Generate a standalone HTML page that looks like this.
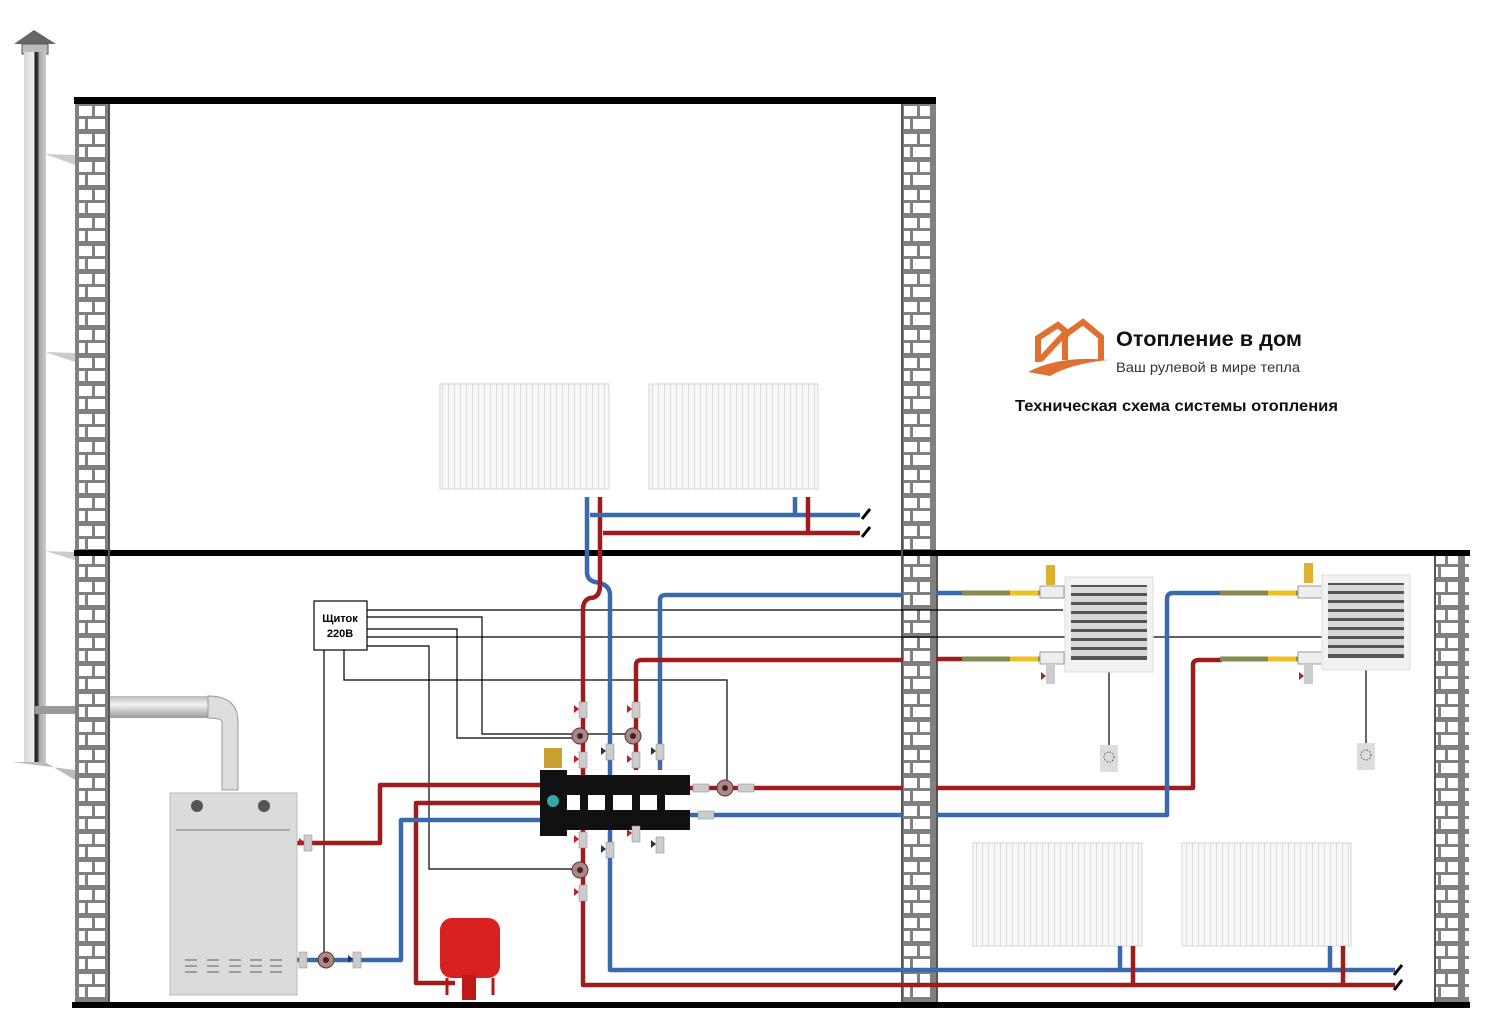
<!DOCTYPE html>
<html><head><meta charset="utf-8"><style>
html,body{margin:0;padding:0;background:#fff;}
svg{display:block;}
text{font-family:"Liberation Sans","DejaVu Sans",sans-serif;}
</style></head><body>
<svg width="1494" height="1030" viewBox="0 0 1494 1030" xmlns="http://www.w3.org/2000/svg">
<defs>
<pattern id="brick" x="75" y="103" width="33" height="28" patternUnits="userSpaceOnUse">
<rect width="33" height="28" fill="#808080"/>
<rect x="4" y="3" width="13" height="10" fill="#fff"/>
<rect x="20" y="3" width="10" height="10" fill="#fff"/>
<rect x="4" y="16" width="6" height="10" fill="#fff"/>
<rect x="13" y="16" width="17" height="10" fill="#fff"/>
</pattern>
<pattern id="rad" x="0" y="0" width="6" height="10" patternUnits="userSpaceOnUse">
<rect width="6" height="10" fill="#f8f8f8"/><rect x="4" width="1" height="10" fill="#dcdcdc"/>
</pattern>
<linearGradient id="chim" x1="0" x2="1"><stop offset="0" stop-color="#d8d8d8"/><stop offset=".45" stop-color="#eee"/><stop offset=".5" stop-color="#222"/><stop offset=".62" stop-color="#333"/><stop offset=".7" stop-color="#aaa"/><stop offset="1" stop-color="#ccc"/></linearGradient>
<linearGradient id="flue" x1="0" y1="0" x2="0" y2="1"><stop offset="0" stop-color="#bbb"/><stop offset=".4" stop-color="#f2f2f2"/><stop offset="1" stop-color="#999"/></linearGradient>
<g id="heater">
<rect x="0" y="0" width="88" height="95" fill="#f2f2f2" stroke="#ddd"/>
<rect x="6" y="8" width="76" height="75" fill="#555"/>
<g fill="#d8d8d8"><rect x="6" y="10" width="76" height="6"/><rect x="6" y="19" width="76" height="6"/><rect x="6" y="28" width="76" height="6"/><rect x="6" y="37" width="76" height="6"/><rect x="6" y="46" width="76" height="6"/><rect x="6" y="55" width="76" height="6"/><rect x="6" y="64" width="76" height="6"/><rect x="6" y="73" width="76" height="6"/></g>
</g>
<g id="valveR"><rect x="-4" y="-8" width="8" height="16" fill="#ccc" stroke="#888" stroke-width=".5"/><path d="M-9,-5 L-4,-1 L-9,3 Z" fill="#b22"/></g>
<g id="valveB"><rect x="-4" y="-8" width="8" height="16" fill="#ccc" stroke="#888" stroke-width=".5"/><path d="M-9,-5 L-4,-1 L-9,3 Z" fill="#235"/></g>
<g id="pump"><circle r="8" fill="#a88" stroke="#633"/><circle r="3" fill="#422"/></g>
<g id="therm"><rect x="0" y="0" width="18" height="27" fill="#ddd"/><circle cx="9" cy="12" r="5" fill="none" stroke="#555" stroke-dasharray="1.5 1.5"/></g>
</defs>

<!-- chimney -->
<path d="M14,44 L34,30 L56,44 Z" fill="#666"/>
<rect x="22" y="44" width="26" height="10" fill="#bbb" stroke="#555"/>
<rect x="24" y="52" width="22" height="710" fill="url(#chim)"/>
<path d="M45,154 L75,155 L75,165 Z" fill="#ccc"/>
<path d="M45,352 L75,353 L75,362 Z" fill="#ccc"/>
<path d="M45,551 L75,552 L75,560 Z" fill="#ccc"/>
<path d="M12,762 L45,762 L75,780 L75,770 Z" fill="#bbb"/>
<rect x="35" y="706" width="40" height="8" fill="#999"/>
<!-- flue -->
<rect x="110" y="696" width="100" height="22" fill="url(#flue)"/>
<path d="M208,696 Q238,696 238,722 L238,790 L222,790 L222,722 Q222,718 208,718 Z" fill="#ddd" stroke="#999"/>

<!-- walls -->
<rect x="75" y="103" width="33" height="900" fill="url(#brick)"/>
<rect x="903" y="103" width="33" height="900" fill="url(#brick)"/>
<rect x="1436" y="556" width="33" height="447" fill="url(#brick)"/>
<rect x="74" y="97" width="862" height="7" fill="#000"/>
<rect x="74" y="550" width="1396" height="6" fill="#000"/>
<rect x="72" y="1002" width="1398" height="6" fill="#000"/>
<rect x="108" y="104" width="2" height="898" fill="#555"/>
<rect x="901" y="104" width="2" height="898" fill="#555"/>
<rect x="936" y="556" width="2" height="446" fill="#555"/>
<rect x="1434" y="556" width="2" height="446" fill="#555"/>

<!-- logo -->
<g fill="none" stroke="#e07030" stroke-width="6" stroke-linejoin="miter">
<path d="M1038,362 L1038,338 L1058,325 L1070,335"/>
<path d="M1065,360 L1065,335 L1083,322 L1101,337 L1101,360"/>
<path d="M1040,360 L1068,330"/>
</g>
<path d="M1028,372 Q1060,355 1108,360 Q1070,364 1050,376 Z" fill="#e07030"/>
<text x="1116" y="346" font-size="21" font-weight="bold" fill="#111" textLength="186" lengthAdjust="spacingAndGlyphs">Отопление в дом</text>
<text x="1116" y="372" font-size="14" fill="#333" textLength="184" lengthAdjust="spacingAndGlyphs">Ваш рулевой в мире тепла</text>
<text x="1015" y="411" font-size="15.5" font-weight="bold" fill="#111" textLength="323" lengthAdjust="spacingAndGlyphs">Техническая схема системы отопления</text>

<!-- radiators -->
<rect x="440" y="384" width="169" height="105" fill="url(#rad)" stroke="#d6d6d6"/>
<rect x="649" y="384" width="169" height="105" fill="url(#rad)" stroke="#d6d6d6"/>
<rect x="973" y="843" width="169" height="103" fill="url(#rad)" stroke="#d6d6d6"/>
<rect x="1182" y="843" width="169" height="103" fill="url(#rad)" stroke="#d6d6d6"/>

<!-- electric lines -->
<g fill="none" stroke="#000" stroke-width="1.2">
<path d="M367,610 H1063"/>
<path d="M367,617 H482 V734 H636"/>
<path d="M367,629 H457 V738 H576"/>
<path d="M367,637 H1322"/>
<path d="M367,646 H429 V869 H576"/>
<path d="M344,650 V680 H727 V785"/>
<path d="M324,650 V960"/>
<path d="M1109,672 V745"/>
<path d="M1366,670 V743"/>
</g>
<rect x="314" y="601" width="53" height="49" fill="#fff" stroke="#000" stroke-width="1.2"/>
<text x="340" y="622" font-size="11" font-weight="bold" text-anchor="middle">Щиток</text>
<text x="340" y="637" font-size="11" font-weight="bold" text-anchor="middle">220В</text>

<!-- pipes -->
<g fill="none" stroke-width="4.5" stroke-linejoin="round">
<path d="M587,497 V572 Q587,580 595,582 Q610,584 610,595 V970 H1395" stroke="#3a6aae"/>
<path d="M600,497 V585 Q600,598 590,598 Q583,600 583,610 V985 H1395" stroke="#9e1c1c"/>
<path d="M590,515 H860" stroke="#3a6aae"/>
<path d="M603,533 H860" stroke="#9e1c1c"/>
<path d="M795,497 V515" stroke="#3a6aae"/><path d="M808,497 V533" stroke="#9e1c1c"/>
<path d="M1120,946 V970" stroke="#3a6aae"/><path d="M1133,946 V985" stroke="#9e1c1c"/>
<path d="M1330,946 V970" stroke="#3a6aae"/><path d="M1343,946 V985" stroke="#9e1c1c"/>
<path d="M660,770 V600 Q660,595 666,595 H903" stroke="#3a6aae"/>
<path d="M936,593 H965" stroke="#3a6aae"/>
<path d="M636,770 V665 Q636,660 642,660 H903" stroke="#9e1c1c"/>
<path d="M936,659 H965" stroke="#9e1c1c"/>
<path d="M690,788 H903" stroke="#9e1c1c"/>
<path d="M936,788 H1193 V665 Q1193,660 1199,660 H1222" stroke="#9e1c1c"/>
<path d="M690,815 H903" stroke="#3a6aae"/>
<path d="M936,815 H1167 V599 Q1167,593 1173,593 H1222" stroke="#3a6aae"/>
<path d="M297,843 H380 V785 H540" stroke="#9e1c1c"/>
<path d="M540,803 H416 V983 H455" stroke="#9e1c1c"/>
<path d="M540,820 H401 V960 H297" stroke="#3a6aae"/>
</g>
<!-- hoses -->
<g stroke-width="5">
<path d="M962,593 H1040" stroke="#8a8a50"/><path d="M1010,593 H1038" stroke="#f0c020"/>
<path d="M962,659 H1040" stroke="#8a8a50"/><path d="M1010,659 H1038" stroke="#f0c020"/>
<path d="M1220,593 H1298" stroke="#8a8a50"/><path d="M1268,593 H1296" stroke="#f0c020"/>
<path d="M1220,659 H1298" stroke="#8a8a50"/><path d="M1268,659 H1296" stroke="#f0c020"/>
</g>
<g fill="#eee" stroke="#999"><rect x="1040" y="586" width="24" height="12"/><rect x="1040" y="652" width="24" height="12"/><rect x="1298" y="586" width="24" height="12"/><rect x="1298" y="652" width="24" height="12"/></g>
<g fill="#e0b030"><rect x="1046" y="565" width="9" height="20"/><rect x="1304" y="563" width="9" height="20"/></g>
<g fill="#ccc"><rect x="1046" y="664" width="9" height="20"/><rect x="1304" y="664" width="9" height="20"/></g>
<path d="M1041,672 L1046,676 L1041,680 Z M1299,672 L1304,676 L1299,680 Z" fill="#b22"/>

<!-- break marks -->
<g stroke="#000" stroke-width="3"><path d="M862,519 L870,509"/><path d="M862,537 L870,527"/><path d="M1394,975 L1402,965"/><path d="M1394,990 L1402,980"/></g>

<use href="#heater" x="1065" y="577"/>
<use href="#heater" x="1322" y="575"/>
<use href="#therm" x="1100" y="745"/>
<use href="#therm" x="1357" y="743"/>

<!-- manifold -->
<rect x="540" y="770" width="27" height="66" fill="#111"/>
<rect x="567" y="775" width="123" height="20" fill="#111"/>
<rect x="567" y="810" width="123" height="20" fill="#111"/>
<g fill="#111"><rect x="580" y="795" width="8" height="15"/><rect x="605" y="795" width="8" height="15"/><rect x="632" y="795" width="8" height="15"/><rect x="657" y="795" width="8" height="15"/></g>
<circle cx="553" cy="801" r="6" fill="#3aa"/>
<rect x="544" y="748" width="18" height="20" fill="#c9a030"/>
<use href="#valveR" x="583" y="710"/><use href="#pump" x="580" y="736"/><use href="#valveR" x="583" y="760"/>
<use href="#valveR" x="636" y="710"/><use href="#pump" x="633" y="736"/><use href="#valveR" x="636" y="760"/>
<use href="#valveB" x="610" y="752"/><use href="#valveB" x="660" y="752"/>
<use href="#valveR" x="583" y="840"/><use href="#pump" x="580" y="870"/><use href="#valveR" x="583" y="893"/>
<use href="#valveB" x="610" y="850"/><use href="#valveR" x="636" y="834"/><use href="#valveB" x="660" y="845"/>
<g fill="#ccc" stroke="#888" stroke-width=".5"><rect x="693" y="784" width="16" height="8"/><rect x="738" y="784" width="16" height="8"/><rect x="698" y="811" width="16" height="8"/></g>
<use href="#pump" x="725" y="788"/>
<use href="#valveR" x="308" y="843"/>
<use href="#pump" x="326" y="960"/>
<use href="#valveB" x="303" y="960"/><use href="#valveB" x="357" y="960"/>

<!-- boiler -->
<rect x="170" y="793" width="127" height="202" fill="#d9dcda" stroke="#bbb"/>
<rect x="176" y="829" width="114" height="2" fill="#aaa"/>
<circle cx="197" cy="806" r="6" fill="#555"/><circle cx="264" cy="806" r="6" fill="#555"/>
<g stroke="#888" stroke-width="1.5"><path d="M185,960 H197 M185,966 H197 M185,972 H197 M207,960 H219 M207,966 H219 M207,972 H219 M229,960 H241 M229,966 H241 M229,972 H241 M250,960 H262 M250,966 H262 M250,972 H262 M270,960 H282 M270,966 H282 M270,972 H282"/></g>

<!-- expansion tank -->
<rect x="440" y="918" width="60" height="60" rx="12" fill="#d82020"/>
<rect x="462" y="975" width="14" height="25" fill="#c01818"/>
<path d="M447,978 V995 M493,978 V995" stroke="#b01818" stroke-width="3"/>
</svg>
</body></html>
